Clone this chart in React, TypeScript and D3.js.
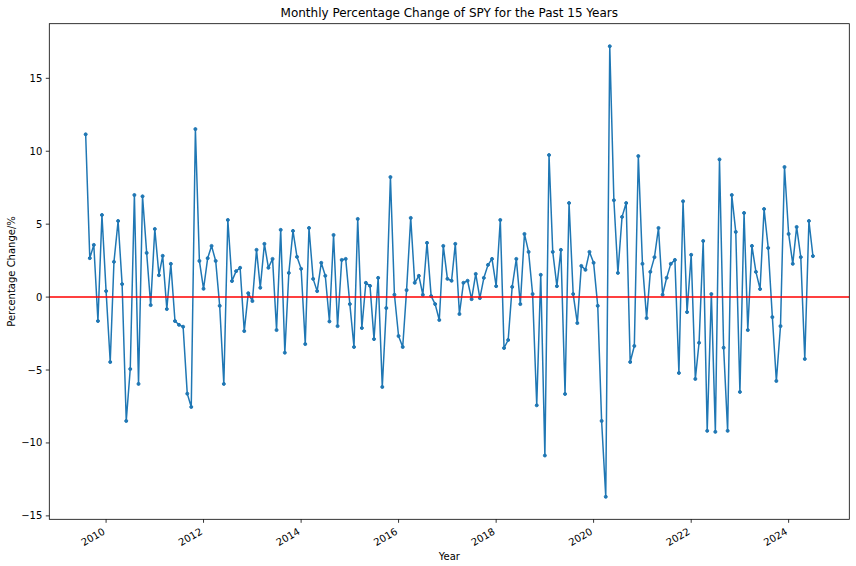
import React from "react";
import * as d3 from "d3";

const START_MONTH = new Date(2009, 7, 1);
const MONTH_COUNT = 180;

const pctChange: number[] = [
  11.16, 2.67, 3.58, -1.64, 5.63, 0.41, -4.45, 2.42, 5.22, 0.89,
  -8.49, -4.93, 7.0, -5.95, 6.91, 3.03, -0.55, 4.67, 1.5, 2.83,
  -0.82, 2.28, -1.64, -1.9, -2.03, -6.62, -7.53, 11.52, 2.48, 0.57,
  2.67, 3.51, 2.48, -0.6, -5.95, 5.29, 1.1, 1.78, 2.01, -2.33,
  0.27, -0.27, 3.24, 0.64, 3.65, 2.01, 2.62, -2.26, 4.61, -3.81,
  1.66, 4.54, 2.76, 1.94, -3.22, 4.74, 1.25, 0.41, 2.35, 1.46,
  -1.67, 4.26, -1.99, 2.55, 2.62, -0.48, -3.42, 5.36, -2.12, 0.98,
  0.77, -2.88, 1.32, -6.16, -0.75, 8.23, 0.16, -2.67, -3.42, 0.48,
  5.43, 0.98, 1.46, 0.16, 3.72, 0.07, -0.48, -1.57, 3.51, 1.25,
  1.12, 3.65, -1.16, 0.98, 1.12, -0.14, 1.59, -0.07, 1.32, 2.21,
  2.62, 0.75, 5.29, -3.49, -2.94, 0.7, 2.62, -0.48, 4.33, 3.1,
  0.21, -7.42, 1.53, -10.86, 9.74, 3.1, 0.75, 3.24, -6.64, 6.45,
  0.21, -1.78, 2.14, 1.87, 3.1, 2.35, -0.6, -8.49, -13.69, 17.2,
  6.64, 1.66, 5.5, 6.45, -4.45, -3.35, 9.67, 2.28, -1.44, 1.73,
  2.74, 4.74, 0.16, 1.32, 2.28, 2.55, -5.2, 6.57, -1.03, 2.9,
  -5.61, -3.13, 3.85, -9.17, 0.21, -9.24, 9.44, -3.47, -9.17, 7.0,
  4.47, -6.5, 5.77, -2.26, 3.51, 1.73, 0.55, 6.04, 3.37, -1.37,
  -5.75, -1.99, 8.92, 4.33, 2.28, 4.81, 2.74, -4.24, 5.22, 2.81,
];

const yTicks: number[] = [-15, -10, -5, 0, 5, 10, 15];
const xTickYears: number[] = [2010, 2012, 2014, 2016, 2018, 2020, 2022, 2024];

const TITLE = "Monthly Percentage Change of SPY for the Past 15 Years";
const X_LABEL = "Year";
const Y_LABEL = "Percentage Change/%";

const W = 856;
const H = 566;
const LEFT = 49.3;
const RIGHT = 849.3;
const TOP = 23.7;
const BOTTOM = 519.3;
const FONT = "DejaVu Sans, sans-serif";

export default function App() {
  const dates = d3.timeMonth.range(
    START_MONTH,
    d3.timeMonth.offset(START_MONTH, MONTH_COUNT)
  );
  const data = dates.map((d, i) => ({ date: d, v: pctChange[i] }));

  const t0 = +dates[0];
  const t1 = +dates[dates.length - 1];
  const tm = (t1 - t0) * 0.05;
  const x = d3
    .scaleTime()
    .domain([new Date(t0 - tm), new Date(t1 + tm)])
    .range([LEFT, RIGHT]);

  const vMin = d3.min(pctChange) as number;
  const vMax = d3.max(pctChange) as number;
  const vm = (vMax - vMin) * 0.05;
  const y = d3
    .scaleLinear()
    .domain([vMin - vm, vMax + vm])
    .range([BOTTOM, TOP]);

  const line = d3
    .line<{ date: Date; v: number }>()
    .x((d) => x(d.date))
    .y((d) => y(d.v));

  const blue = "#1f77b4";
  const fmt = (v: number) => (v < 0 ? "\u2212" + Math.abs(v) : String(v));

  return (
    <svg
      width={W}
      height={H}
      style={{ position: "absolute", left: 0, top: 0, background: "#fff" }}
      fontFamily={FONT}
    >
      <rect x={0} y={0} width={W} height={H} fill="#fff" />
      <defs>
        <clipPath id="plotclip">
          <rect x={LEFT} y={TOP} width={RIGHT - LEFT} height={BOTTOM - TOP} />
        </clipPath>
      </defs>
      <g clipPath="url(#plotclip)">
        <path
          d={line(data) || ""}
          fill="none"
          stroke={blue}
          strokeWidth={1.5}
          strokeLinejoin="round"
          strokeLinecap="square"
        />
        {data.map((d, i) => (
          <circle
            key={i}
            cx={x(d.date)}
            cy={y(d.v)}
            r={1.5}
            fill={blue}
            stroke={blue}
            strokeWidth={1}
          />
        ))}
        <line
          x1={LEFT}
          x2={RIGHT}
          y1={y(0)}
          y2={y(0)}
          stroke="#ff0000"
          strokeWidth={1.5}
        />
      </g>

      {/* spines */}
      <rect
        x={LEFT}
        y={TOP}
        width={RIGHT - LEFT}
        height={BOTTOM - TOP}
        fill="none"
        stroke="#000"
        strokeWidth={0.8}
      />

      {/* y ticks */}
      {yTicks.map((t) => (
        <g key={t}>
          <line
            x1={LEFT - 3.5}
            x2={LEFT}
            y1={y(t)}
            y2={y(t)}
            stroke="#000"
            strokeWidth={0.8}
          />
          <text
            x={LEFT - 7}
            y={y(t)}
            fontSize={10}
            textAnchor="end"
            dominantBaseline="central"
            fill="#000"
          >
            {fmt(t)}
          </text>
        </g>
      ))}

      {/* x ticks */}
      {xTickYears.map((yr) => {
        const px = x(new Date(yr, 0, 1));
        return (
          <g key={yr}>
            <line
              x1={px}
              x2={px}
              y1={BOTTOM}
              y2={BOTTOM + 3.5}
              stroke="#000"
              strokeWidth={0.8}
            />
            <text
              transform={`translate(${px - 4},${BOTTOM + 8}) rotate(-30)`}
              fontSize={10}
              textAnchor="end"
              dominantBaseline="hanging"
              fill="#000"
            >
              {yr}
            </text>
          </g>
        );
      })}

      <text
        x={(LEFT + RIGHT) / 2}
        y={17}
        fontSize={12}
        textAnchor="middle"
        fill="#000"
      >
        {TITLE}
      </text>
      <text
        x={(LEFT + RIGHT) / 2}
        y={560}
        fontSize={10}
        textAnchor="middle"
        fill="#000"
      >
        {X_LABEL}
      </text>
      <text
        transform={`translate(15,${(TOP + BOTTOM) / 2}) rotate(-90)`}
        fontSize={10}
        textAnchor="middle"
        fill="#000"
      >
        {Y_LABEL}
      </text>
    </svg>
  );
}
